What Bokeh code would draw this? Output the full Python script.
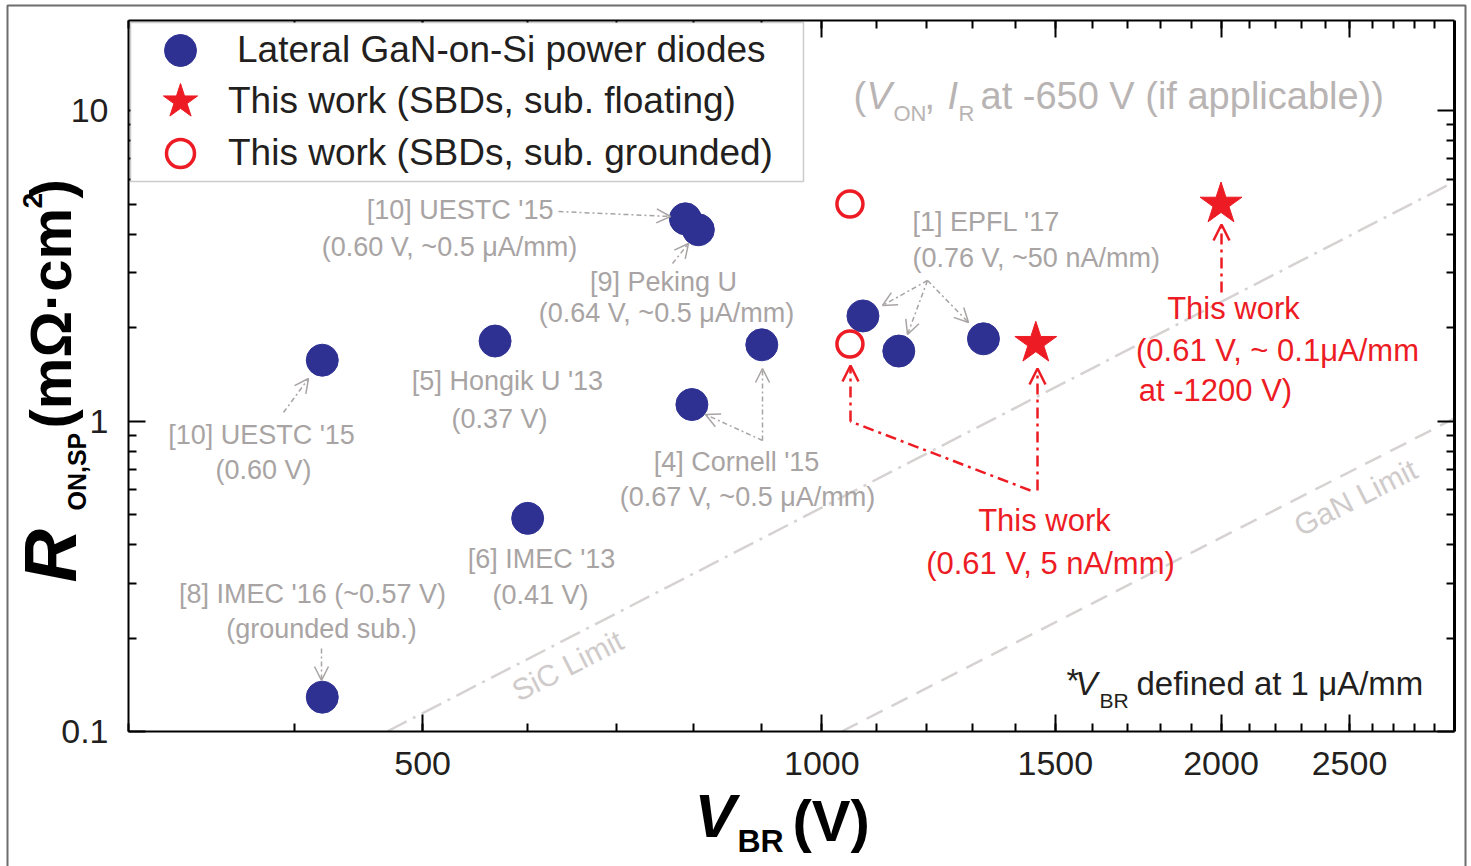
import math
from bokeh.plotting import figure
from bokeh.models import (Range1d, LogAxis, FixedTicker, CustomJSTickFormatter, Label, Arrow,
                          OpenHead, Legend, LegendItem, BoxAnnotation)
from bokeh.core.properties import value
from bokeh.embed import file_html
from bokeh.resources import INLINE

# ---------------- data ----------------
lateral_vbr = [420, 420, 567, 600, 789, 807, 798, 901, 1074, 1143, 1324]
lateral_ron = [1.57, 0.129, 1.81, 0.486, 4.48, 4.13, 1.13, 1.76, 2.18, 1.68, 1.84]
floating_vbr = [1450, 2000]
floating_ron = [1.78, 5.0]
grounded_vbr = [1050, 1050]
grounded_ron = [5.0, 1.77]
sic_vbr = [470, 3000]
sic_ron = [0.1, 5.9]
gan_vbr = [1035, 3000]
gan_ron = [0.1, 1.02]

x_major = [500, 1000, 1500, 2000, 2500]
x_minor = [300, 400, 500, 600, 700, 800, 900, 1000, 1100, 1200, 1300, 1400, 1500, 1600, 1700,
           1800, 1900, 2000, 2100, 2200, 2300, 2400, 2500, 2600, 2700, 2800, 2900]
y_major = [0.1, 1, 10]
y_minor = [0.2, 0.3, 0.4, 0.5, 0.6, 0.7, 0.8, 0.9, 2, 3, 4, 5, 6, 7, 8, 9]

legend_labels = ["Lateral GaN-on-Si power diodes", "This work (SBDs, sub. floating)",
                 "This work (SBDs, sub. grounded)"]

# ---------------- styles ----------------
BLUE = "#2e3192"
RED = "#ed1c24"
GRAY_TXT = "#a9a4a4"
GRAY_TITLE = "#b9b4b4"
LIMIT = "#d6d2d2"
FONT = "Liberation Sans"
INK = "#231f20"

X0, X1, Y0, Y1 = 300, 3000, 0.1, 19.5
p = figure(width=1471, height=866, x_axis_type="log", y_axis_type="log",
           x_range=Range1d(X0, X1), y_range=Range1d(Y0, Y1),
           output_backend="svg", toolbar_location=None,
           min_border_left=128, min_border_right=17, min_border_top=20, min_border_bottom=135)
p.background_fill_color = "white"
p.border_fill_color = "white"
p.outline_line_color = None
p.xgrid.visible = False
p.ygrid.visible = False

fmt = CustomJSTickFormatter(code="return String(tick);")
blank = CustomJSTickFormatter(code="return '';")


def style_axis(ax, ticker, labels=True, lw=2):
    ax.ticker = ticker
    ax.axis_line_color = "black"
    ax.axis_line_width = lw
    ax.major_tick_in = 17
    ax.major_tick_out = 0
    ax.minor_tick_in = 8
    ax.minor_tick_out = 0
    ax.major_tick_line_color = "black"
    ax.minor_tick_line_color = "black"
    ax.major_tick_line_width = 2
    ax.minor_tick_line_width = 2
    if labels:
        ax.formatter = fmt
        ax.major_label_text_font = FONT
        ax.major_label_text_font_size = "34px"
        ax.major_label_text_color = INK
        ax.major_label_standoff = 20
    else:
        ax.formatter = blank
        ax.major_label_text_font_size = "2px"
        ax.major_label_standoff = 0


style_axis(p.xaxis[0], FixedTicker(ticks=x_major, minor_ticks=x_minor))
style_axis(p.yaxis[0], FixedTicker(ticks=y_major, minor_ticks=y_minor))
top_ax = LogAxis()
right_ax = LogAxis()
style_axis(top_ax, FixedTicker(ticks=x_major, minor_ticks=x_minor), labels=False)
style_axis(right_ax, FixedTicker(ticks=y_major, minor_ticks=y_minor), labels=False, lw=3)
p.add_layout(top_ax, "above")
p.add_layout(right_ax, "right")

# limit lines
p.line(sic_vbr, sic_ron, line_color=LIMIT, line_width=2.5, line_dash="22 7 3 7")
p.line(gan_vbr, gan_ron, line_color=LIMIT, line_width=2.5, line_dash="18 10")

# helpers: annotation positions given in picture pixels, converted relative to the frame
FL, FB, FR, FT = 128, 731, 1454, 20


def lab(text, px, py, size, color, align="center", style="normal", angle=0.0):
    p.add_layout(Label(x=px - FL, y=FB - py, x_units="screen", y_units="screen", text=text,
                       text_font=FONT, text_font_size=f"{size}px", text_color=color,
                       text_align=align, text_baseline="middle", text_font_style=style,
                       angle=angle))


def arrow(x0, y0, x1, y1, color, width, dash, head=True, hsize=14):
    kw = {"end": OpenHead(size=hsize, line_color=color, line_width=width) if head else None}
    p.add_layout(Arrow(x_start=x0 - FL, y_start=FB - y0, x_end=x1 - FL, y_end=FB - y1,
                       start_units="screen", end_units="screen",
                       line_color=color, line_width=width, line_dash=dash, **kw))


def outside_text(texts, pxs, pys, size, style, angle=0.0, color="black"):
    # texts that sit outside the frame: anchored at the frame's lower-left corner
    n = len(texts)
    r = p.text(x=[X0] * n, y=[Y0] * n, text=texts,
               x_offset=[px - FL for px in pxs], y_offset=[py - FB for py in pys],
               text_font=value(FONT), text_font_size=value(f"{size}px"),
               text_font_style=value(style), text_color=color,
               text_align="left", text_baseline="middle", angle=angle)
    r.level = "overlay"


def px_to_x(px):
    return X0 * (X1 / X0) ** ((px - FL) / (FR - FL))


def py_to_y(py):
    return Y0 * (Y1 / Y0) ** ((FB - py) / (FB - FT))


# limit labels
ang = math.atan(0.506)
lab("SiC Limit", 567, 665, 30, "#d0cbcb", angle=ang)
lab("GaN Limit", 1355, 497, 30, "#d0cbcb", angle=ang)

# gray annotations
gray_lines = [
    ("[10] UESTC '15", 553, 209, "right"),
    ("(0.60 V, ~0.5 μA/mm)", 449, 246, "center"),
    ("[9] Peking U", 663, 281, "center"),
    ("(0.64 V, ~0.5 μA/mm)", 666, 312, "center"),
    ("[5] Hongik U '13", 507, 380, "center"),
    ("(0.37 V)", 499, 418, "center"),
    ("[10] UESTC '15", 261, 434, "center"),
    ("(0.60 V)", 263, 469, "center"),
    ("[4] Cornell '15", 736, 461, "center"),
    ("(0.67 V, ~0.5 μA/mm)", 747, 496, "center"),
    ("[6] IMEC '13", 541, 558, "center"),
    ("(0.41 V)", 540, 594, "center"),
    ("[8] IMEC '16 (~0.57 V)", 312, 593, "center"),
    ("(grounded sub.)", 321, 628, "center"),
    ("[1] EPFL '17", 912, 221, "left"),
    ("(0.76 V, ~50 nA/mm)", 912, 257, "left"),
]
for t, x, y, a in gray_lines:
    lab(t, x, y, 27, GRAY_TXT, align=a)

GD = "5 3 2 3"
arrow(558, 211, 670, 216, GRAY_TXT, 1.5, GD)
arrow(672, 263, 688, 243, GRAY_TXT, 1.5, GD)
arrow(283, 412, 308, 378, GRAY_TXT, 1.5, GD)
arrow(762, 440, 762, 368, GRAY_TXT, 1.5, GD)
arrow(762, 440, 705, 414, GRAY_TXT, 1.5, GD)
arrow(321, 648, 321, 680, GRAY_TXT, 1.5, GD)
arrow(927, 280, 882, 305, GRAY_TXT, 1.5, GD)
arrow(927, 280, 907, 334, GRAY_TXT, 1.5, GD)
arrow(927, 280, 968, 322, GRAY_TXT, 1.5, GD)

# red annotations
red_lines = [
    ("This work", 1233, 308),
    ("(0.61 V, ~ 0.1μA/mm", 1277, 350),
    ("at -1200 V)", 1215, 390),
    ("This work", 1044, 520),
    ("(0.61 V, 5 nA/mm)", 1050, 563),
]
for t, x, y in red_lines:
    lab(t, x, y, 31, RED)

RD = "11 5 3 5"
arrow(1037, 490, 1037, 368, RED, 2.5, RD, hsize=16)
arrow(1030, 490, 850, 421, RED, 2.5, RD, head=False)
arrow(850, 421, 850, 365, RED, 2.5, RD, hsize=16)
arrow(1221, 292, 1221, 224, RED, 2.5, RD, hsize=16)

# note (V_ON, I_R at -650 V (if applicable))
lab("(", 853, 95, 38, GRAY_TITLE, align="left")
lab("V", 866, 95, 38, GRAY_TITLE, align="left", style="italic")
lab("ON", 893, 113, 22, GRAY_TITLE, align="left")
lab(",", 924, 95, 38, GRAY_TITLE, align="left")
lab("I", 947, 95, 38, GRAY_TITLE, align="left", style="italic")
lab("R", 958, 113, 22, GRAY_TITLE, align="left")
lab("at -650 V (if applicable))", 980, 95, 38, GRAY_TITLE, align="left")

# footnote *V_BR defined at 1 μA/mm
lab("*", 1066, 680, 33, INK, align="left")
lab("V", 1075, 683, 33, INK, align="left", style="italic")
lab("BR", 1099, 700, 21, INK, align="left")
lab("defined at 1 μA/mm", 1136, 683, 33, INK, align="left")

# axis titles (outside the frame)
outside_text(["V"], [694], [815], 62, "bold italic")
outside_text(["BR"], [737], [840], 32, "bold")
outside_text(["(V)"], [792], [820], 58, "bold")
up = math.pi / 2
outside_text(["R"], [50], [582], 74, "bold italic", angle=up)
outside_text(["ON,SP"], [76], [510], 25, "bold", angle=up)
outside_text(["(mΩ·cm", ")"], [50, 50], [428, 198], 58, "bold", angle=up)
outside_text(["2"], [32], [208], 28, "bold", angle=up)

# outer picture border
border = p.quad(left=[px_to_x(7)], right=[px_to_x(1465)], top=[py_to_y(5)], bottom=[py_to_y(900)],
                fill_alpha=0.0, line_color="#6d6d6d", line_width=2)
border.level = "overlay"

# ---------------- marks ----------------
r_blue = p.scatter(lateral_vbr, lateral_ron, marker="circle", size=32,
                   fill_color=BLUE, line_color=BLUE)
r_open = p.scatter(grounded_vbr, grounded_ron, marker="circle", size=26,
                   fill_color="white", line_color=RED, line_width=3.5)
r_star = p.scatter(floating_vbr, floating_ron, marker="star", size=44,
                   fill_color=RED, line_color=RED)

# legend box + legend (one entry per Legend so that rows can sit closer than the glyph boxes)
p.add_layout(BoxAnnotation(left=2, right=675, bottom=FB - 181, top=FB - 22,
                           left_units="screen", right_units="screen",
                           bottom_units="screen", top_units="screen",
                           fill_color="white", fill_alpha=1.0,
                           line_color="#555555", line_width=1.5))


def legend_row(label, renderer, cy, glyph, standoff):
    lg = Legend(items=[LegendItem(label=label, renderers=[renderer])],
                location=(180 - glyph // 2 - FL, FB - (cy + glyph // 2)),
                border_line_color=None, background_fill_alpha=0.0,
                glyph_width=glyph, glyph_height=glyph, label_height=glyph,
                padding=0, margin=0, label_standoff=standoff,
                label_text_font=FONT, label_text_font_size="37px", label_text_color=INK)
    p.add_layout(lg)


legend_row(legend_labels[0], r_blue, 50, 80, 17)
legend_row(legend_labels[1], r_star, 101, 90, 3)
legend_row(legend_labels[2], r_open, 153, 70, 13)

open("out.html", "w").write(file_html(p, INLINE))
